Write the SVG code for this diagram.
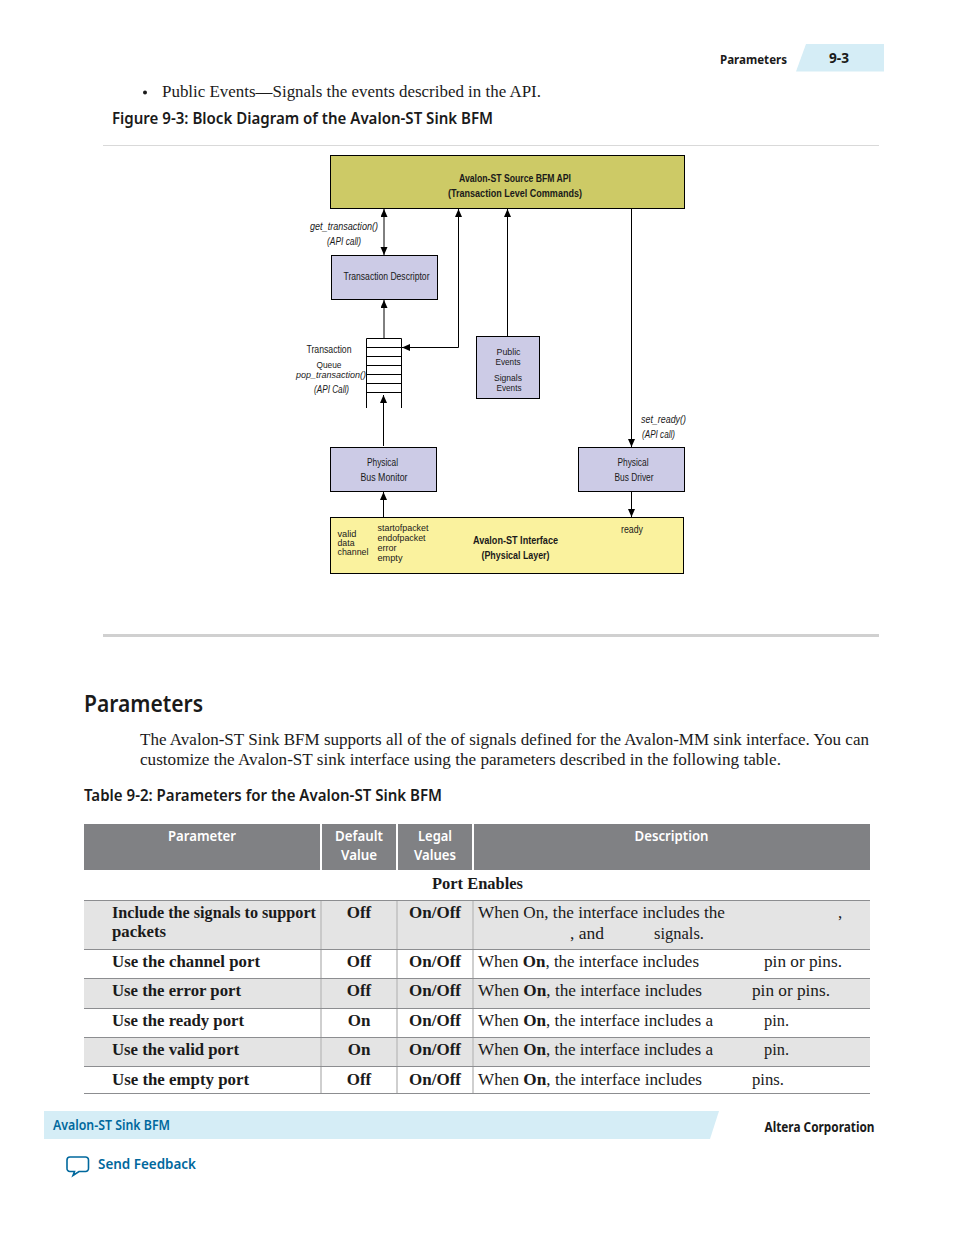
<svg xmlns="http://www.w3.org/2000/svg" width="954" height="1235" viewBox="0 0 954 1235">
<style>
text{fill:#1a1a1a}
.s{font-family:"Noto Sans","Liberation Sans",sans-serif}
.r{font-family:"Liberation Serif",serif;font-size:17px}
.b{font-weight:700}
.h{font-family:"Noto Sans","Liberation Sans",sans-serif;font-weight:600;font-size:15px;fill:#fff;text-anchor:middle}
.d{font-family:"Liberation Sans",sans-serif;font-size:11px;fill:#1a1a1a}
.t{font-size:9.500px}
.i{font-style:italic}
.box{stroke:#000;stroke-width:1}
.c{fill:none;stroke:#000;stroke-width:1}
.g{fill:#e4e4e4}
.hl{stroke:#8c8d90;stroke-width:1}
.vl{stroke:#c0c0c0;stroke-width:1.5}
</style>
<defs>
<marker id="a" markerWidth="9" markerHeight="8" refX="8" refY="3.500" orient="auto-start-reverse" markerUnits="userSpaceOnUse"><path d="M0 0L8 3.500L0 7Z" fill="#000"/></marker>
</defs>
<rect width="954" height="1235" fill="#fff"/>

<g id="page-header">
<text class="s" x="720" y="64" font-size="13" font-weight="700" textLength="67" lengthAdjust="spacingAndGlyphs">Parameters</text>
<polygon points="806,44 884,44 884,71.500 796,71.500" fill="#d5edf6"/>
<text class="s" x="829" y="63" font-size="14" font-weight="700" textLength="20" lengthAdjust="spacingAndGlyphs">9-3</text>
</g>
<g id="intro">
<circle cx="145" cy="92.500" r="2" fill="#1a1a1a"/>
<text class="r" x="162" y="97" textLength="379" lengthAdjust="spacingAndGlyphs">Public Events—Signals the events described in the API.</text>
<text class="s" x="112" y="124" font-size="16.500" font-weight="600" textLength="381" lengthAdjust="spacingAndGlyphs">Figure 9-3: Block Diagram of the Avalon-ST Sink BFM</text>
<line x1="103" y1="145.500" x2="879" y2="145.500" stroke="#d9d9d9"/>
<line x1="103" y1="635.500" x2="879" y2="635.500" stroke="#d0d0d0" stroke-width="3"/>
</g>

<g id="connectors">
<line class="c" x1="384" y1="209" x2="384" y2="255" marker-start="url(#a)" marker-end="url(#a)"/>
<line class="c" x1="384" y1="338" x2="384" y2="300" marker-end="url(#a)"/>
<polyline class="c" points="402,347.500 458.500,347.500 458.500,209" marker-start="url(#a)" marker-end="url(#a)"/>
<line class="c" x1="507.500" y1="336" x2="507.500" y2="209" marker-end="url(#a)"/>
<line class="c" x1="631.500" y1="208" x2="631.500" y2="447" marker-end="url(#a)"/>
<line class="c" x1="383.500" y1="446" x2="383.500" y2="395" marker-end="url(#a)"/>
<line class="c" x1="383.500" y1="517" x2="383.500" y2="492" marker-end="url(#a)"/>
<line class="c" x1="631.500" y1="492" x2="631.500" y2="517" marker-end="url(#a)"/>
</g>

<g id="api-box">
<rect class="box" x="330.500" y="155.500" width="354" height="53" fill="#cdca66"/>
<text class="d b" x="515" y="182" text-anchor="middle" textLength="112" lengthAdjust="spacingAndGlyphs">Avalon-ST Source BFM API</text>
<text class="d b" x="515" y="197" text-anchor="middle" textLength="134" lengthAdjust="spacingAndGlyphs">(Transaction Level Commands)</text>
</g>
<g id="transaction-descriptor">
<rect class="box" x="331.500" y="255.500" width="106" height="44" fill="#cccbe6"/>
<text class="d" x="343.500" y="280" textLength="86" lengthAdjust="spacingAndGlyphs">Transaction Descriptor</text>
</g>
<g id="get-transaction-label">
<text class="d i" x="310" y="230" textLength="68" lengthAdjust="spacingAndGlyphs">get_transaction()</text>
<text class="d i" x="327" y="245" textLength="34" lengthAdjust="spacingAndGlyphs">(API call)</text>
</g>
<g id="transaction-queue">
<path class="c" d="M366.500 408V338.500H401.500V408M366.500 347.500H401.500M366.500 356.500H401.500M366.500 365.500H401.500M366.500 374.500H401.500M366.500 383.500H401.500M366.500 392.500H401.500"/>
<text class="d" x="306.500" y="353" textLength="45" lengthAdjust="spacingAndGlyphs">Transaction</text>
<text class="d t" x="316.500" y="367.500" textLength="25" lengthAdjust="spacingAndGlyphs">Queue</text>
<text class="d i t" x="296" y="378" textLength="70" lengthAdjust="spacingAndGlyphs">pop_transaction()</text>
<text class="d i" x="314" y="393" textLength="35" lengthAdjust="spacingAndGlyphs">(API Call)</text>
</g>
<g id="public-events">
<rect class="box" x="476.500" y="336.500" width="63" height="62" fill="#cccbe6"/>
<text class="d t" x="496.500" y="355" textLength="24" lengthAdjust="spacingAndGlyphs">Public</text>
<text class="d t" x="495.500" y="365" textLength="25" lengthAdjust="spacingAndGlyphs">Events</text>
<text class="d t" x="494" y="380.500" textLength="28" lengthAdjust="spacingAndGlyphs">Signals</text>
<text class="d t" x="496.500" y="391" textLength="25" lengthAdjust="spacingAndGlyphs">Events</text>
</g>
<g id="bus-monitor">
<rect class="box" x="330.500" y="447.500" width="106" height="44" fill="#cccbe6"/>
<text class="d" x="367" y="466" textLength="31" lengthAdjust="spacingAndGlyphs">Physical</text>
<text class="d" x="360.500" y="481" textLength="47" lengthAdjust="spacingAndGlyphs">Bus Monitor</text>
</g>
<g id="bus-driver">
<rect class="box" x="578.500" y="447.500" width="106" height="44" fill="#cccbe6"/>
<text class="d" x="617.500" y="466" textLength="31" lengthAdjust="spacingAndGlyphs">Physical</text>
<text class="d" x="614.500" y="481" textLength="39" lengthAdjust="spacingAndGlyphs">Bus Driver</text>
</g>
<g id="set-ready-label">
<text class="d i" x="641" y="423" textLength="45" lengthAdjust="spacingAndGlyphs">set_ready()</text>
<text class="d i" x="642" y="438" textLength="33" lengthAdjust="spacingAndGlyphs">(API call)</text>
</g>
<g id="avalon-interface">
<rect class="box" x="330.500" y="517.500" width="353" height="56" fill="#faf29e"/>
<text class="d t" x="337.500" y="536.500" textLength="19" lengthAdjust="spacingAndGlyphs">valid</text>
<text class="d t" x="337.500" y="546" textLength="17" lengthAdjust="spacingAndGlyphs">data</text>
<text class="d t" x="337.500" y="555" textLength="31" lengthAdjust="spacingAndGlyphs">channel</text>
<text class="d t" x="377.500" y="531" textLength="51" lengthAdjust="spacingAndGlyphs">startofpacket</text>
<text class="d t" x="377.500" y="541" textLength="48" lengthAdjust="spacingAndGlyphs">endofpacket</text>
<text class="d t" x="377.500" y="551" textLength="19" lengthAdjust="spacingAndGlyphs">error</text>
<text class="d t" x="377.500" y="561" textLength="25" lengthAdjust="spacingAndGlyphs">empty</text>
<text class="d" x="621" y="533" textLength="22" lengthAdjust="spacingAndGlyphs">ready</text>
<text class="d b" x="473" y="544" textLength="85" lengthAdjust="spacingAndGlyphs">Avalon-ST Interface</text>
<text class="d b" x="481.500" y="559" textLength="68" lengthAdjust="spacingAndGlyphs">(Physical Layer)</text>
</g>

<g id="parameters-section">
<text class="s" x="84" y="712" font-size="24" font-weight="600" textLength="119" lengthAdjust="spacingAndGlyphs">Parameters</text>
<text class="r" x="140" y="745" textLength="729" lengthAdjust="spacingAndGlyphs">The Avalon-ST Sink BFM supports all of the of signals defined for the Avalon-MM sink interface. You can</text>
<text class="r" x="140" y="765" textLength="641" lengthAdjust="spacingAndGlyphs">customize the Avalon-ST sink interface using the parameters described in the following table.</text>
<text class="s" x="84" y="801" font-size="16.500" font-weight="600" textLength="358" lengthAdjust="spacingAndGlyphs">Table 9-2: Parameters for the Avalon-ST Sink BFM</text>
</g>

<g id="table">
<rect x="84" y="824" width="786" height="46" fill="#808184"/>
<rect x="320" y="824" width="2" height="46" fill="#fff"/>
<rect x="396" y="824" width="2" height="46" fill="#fff"/>
<rect x="472" y="824" width="2" height="46" fill="#fff"/>
<text class="h" x="202" y="841" textLength="68" lengthAdjust="spacingAndGlyphs">Parameter</text>
<text class="h" x="359" y="841" textLength="48" lengthAdjust="spacingAndGlyphs">Default</text>
<text class="h" x="359" y="860" textLength="36" lengthAdjust="spacingAndGlyphs">Value</text>
<text class="h" x="435" y="841" textLength="34" lengthAdjust="spacingAndGlyphs">Legal</text>
<text class="h" x="435" y="860" textLength="42" lengthAdjust="spacingAndGlyphs">Values</text>
<text class="h" x="671.500" y="841" textLength="74" lengthAdjust="spacingAndGlyphs">Description</text>
<text class="r b" x="432" y="889" textLength="91" lengthAdjust="spacingAndGlyphs">Port Enables</text>

<rect class="g" x="84" y="900" width="786" height="49"/>
<rect class="g" x="84" y="978" width="786" height="30"/>
<rect class="g" x="84" y="1037" width="786" height="29"/>
<path class="vl" d="M321 900V1093M397 900V1093M473 900V1093"/>
<path class="hl" d="M84 900.500H870M84 949.500H870M84 978.500H870M84 1008.500H870M84 1037.500H870M84 1066.500H870M84 1093.500H870"/>

<text class="r b" x="112" y="918" textLength="204" lengthAdjust="spacingAndGlyphs">Include the signals to support</text>
<text class="r b" x="112" y="937" textLength="54" lengthAdjust="spacingAndGlyphs">packets</text>
<text class="r b" x="112" y="967" textLength="148" lengthAdjust="spacingAndGlyphs">Use the channel port</text>
<text class="r b" x="112" y="996" textLength="129" lengthAdjust="spacingAndGlyphs">Use the error port</text>
<text class="r b" x="112" y="1026" textLength="132" lengthAdjust="spacingAndGlyphs">Use the ready port</text>
<text class="r b" x="112" y="1055" textLength="127" lengthAdjust="spacingAndGlyphs">Use the valid port</text>
<text class="r b" x="112" y="1085" textLength="137" lengthAdjust="spacingAndGlyphs">Use the empty port</text>

<text class="r b" x="359" y="918" text-anchor="middle">Off</text>
<text class="r b" x="359" y="967" text-anchor="middle">Off</text>
<text class="r b" x="359" y="996" text-anchor="middle">Off</text>
<text class="r b" x="359" y="1026" text-anchor="middle">On</text>
<text class="r b" x="359" y="1055" text-anchor="middle">On</text>
<text class="r b" x="359" y="1085" text-anchor="middle">Off</text>

<text class="r b" x="435" y="918" text-anchor="middle">On/Off</text>
<text class="r b" x="435" y="967" text-anchor="middle">On/Off</text>
<text class="r b" x="435" y="996" text-anchor="middle">On/Off</text>
<text class="r b" x="435" y="1026" text-anchor="middle">On/Off</text>
<text class="r b" x="435" y="1055" text-anchor="middle">On/Off</text>
<text class="r b" x="435" y="1085" text-anchor="middle">On/Off</text>

<text class="r" x="478" y="918" textLength="247" lengthAdjust="spacingAndGlyphs">When On, the interface includes the</text>
<text class="r" x="838" y="918">,</text>
<text class="r" x="570" y="939" textLength="34" lengthAdjust="spacingAndGlyphs">, and</text>
<text class="r" x="654" y="939" textLength="50" lengthAdjust="spacingAndGlyphs">signals.</text>
<text class="r" x="478" y="967" textLength="221" lengthAdjust="spacingAndGlyphs">When <tspan class="b">On</tspan>, the interface includes</text>
<text class="r" x="764" y="967" textLength="78" lengthAdjust="spacingAndGlyphs">pin or pins.</text>
<text class="r" x="478" y="996" textLength="224" lengthAdjust="spacingAndGlyphs">When <tspan class="b">On</tspan>, the interface includes</text>
<text class="r" x="752" y="996" textLength="78" lengthAdjust="spacingAndGlyphs">pin or pins.</text>
<text class="r" x="478" y="1026" textLength="235" lengthAdjust="spacingAndGlyphs">When <tspan class="b">On</tspan>, the interface includes a</text>
<text class="r" x="764" y="1026" textLength="25" lengthAdjust="spacingAndGlyphs">pin.</text>
<text class="r" x="478" y="1055" textLength="235" lengthAdjust="spacingAndGlyphs">When <tspan class="b">On</tspan>, the interface includes a</text>
<text class="r" x="764" y="1055" textLength="25" lengthAdjust="spacingAndGlyphs">pin.</text>
<text class="r" x="478" y="1085" textLength="224" lengthAdjust="spacingAndGlyphs">When <tspan class="b">On</tspan>, the interface includes</text>
<text class="r" x="752" y="1085" textLength="32" lengthAdjust="spacingAndGlyphs">pins.</text>
</g>

<g id="footer">
<polygon points="44,1111 719,1111 710,1139 44,1139" fill="#d5edf6"/>
<text class="s" x="53" y="1130" font-size="14" font-weight="600" textLength="117" lengthAdjust="spacingAndGlyphs" style="fill:#00689d">Avalon-ST Sink BFM</text>
<text class="s" x="764.500" y="1132" font-size="14" font-weight="700" textLength="110" lengthAdjust="spacingAndGlyphs">Altera Corporation</text>
<path d="M70 1157H85A3 3 0 0 1 88.500 1160V1168A3 3 0 0 1 85 1171.500H79L73 1175.500L74.500 1171.500H70A3 3 0 0 1 67 1168V1160A3 3 0 0 1 70 1157Z" fill="none" stroke="#00689d" stroke-width="1.600"/>
<text class="s" x="98" y="1169" font-size="14.500" font-weight="600" textLength="98" lengthAdjust="spacingAndGlyphs" style="fill:#00689d">Send Feedback</text>
</g>
</svg>
